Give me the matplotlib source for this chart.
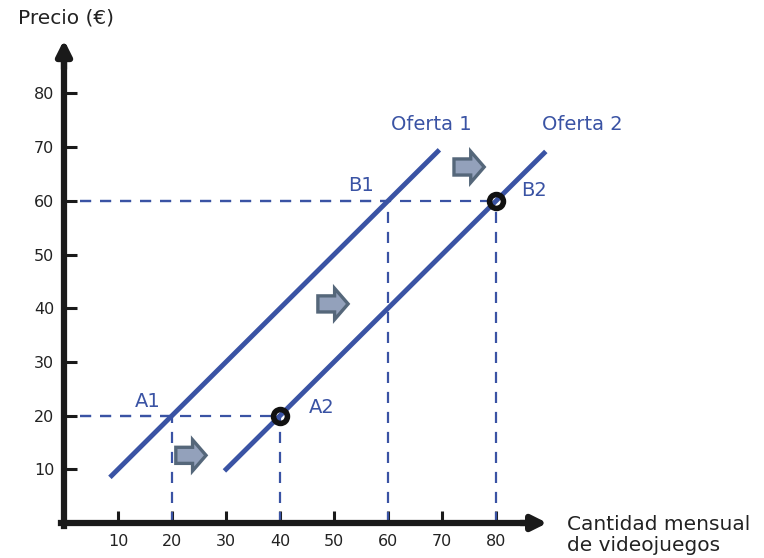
import matplotlib.pyplot as plt
from matplotlib.patches import FancyArrow

# supply curves (quantity, price)
oferta1_x = [8.5, 69.5]
oferta1_y = [8.5, 69.5]
oferta2_x = [29.7, 89.2]
oferta2_y = [9.7, 69.2]

# equilibrium points
puntos_x = [20, 40, 60, 80]
puntos_y = [20, 20, 60, 60]
circulos_x = [40, 80]
circulos_y = [20, 60]

# shift arrows (left x, center y)
flechas_x = [20.7, 47.0, 72.2]
flechas_y = [12.6, 40.8, 66.3]

ticks = [10, 20, 30, 40, 50, 60, 70, 80]

etiquetas = ['A1', 'A2', 'B1', 'B2', 'Oferta 1', 'Oferta 2']
etiq_x = [15.5, 47.8, 55.0, 87.0, 68.0, 96.0]
etiq_y = [22.7, 21.6, 62.8, 62.0, 74.3, 74.3]

azul = '#3a53a4'
negro = '#1a1a1a'

fig = plt.figure(figsize=(7.64, 5.58), dpi=100)
ax = fig.add_axes([0, 0, 1, 1])
ax.set_xlim(-11.85, 129.6)
ax.set_ylim(-6.52, 97.4)

# axes with arrow heads
for s in ['top', 'right']:
    ax.spines[s].set_visible(False)
ax.spines['left'].set_position(('data', 0))
ax.spines['bottom'].set_position(('data', 0))
ax.spines['left'].set_bounds(-0.6, 86)
ax.spines['bottom'].set_bounds(-0.6, 86)
for s in ['left', 'bottom']:
    ax.spines[s].set_linewidth(4.5)
    ax.spines[s].set_color(negro)
ax.annotate('', xy=(90, 0), xytext=(84, 0),
            arrowprops=dict(arrowstyle='-|>', color=negro, lw=4.5, mutation_scale=22))
ax.annotate('', xy=(0, 90.5), xytext=(0, 84),
            arrowprops=dict(arrowstyle='-|>', color=negro, lw=4.5, mutation_scale=22))

ax.set_xticks(ticks)
ax.set_yticks(ticks)
ax.tick_params(direction='in', length=9, width=2.2, color=negro,
               labelsize=11.5, labelcolor='#222222')
ax.tick_params(axis='x', pad=8)
ax.tick_params(axis='y', pad=7)

# dashed guide lines
for px, py in zip(puntos_x, puntos_y):
    ax.plot([3, px], [py, py], color=azul, lw=1.6, ls=(0, (5, 4)))
    ax.plot([px, px], [0, py], color=azul, lw=1.6, ls=(0, (5, 4)))

# supply curves
ax.plot(oferta1_x, oferta1_y, color=azul, lw=3.5, solid_capstyle='butt')
ax.plot(oferta2_x, oferta2_y, color=azul, lw=3.5, solid_capstyle='butt')

ax.plot(circulos_x, circulos_y, 'o', ms=10, mfc='none', mec='#111111', mew=4, zorder=5)

# shift arrows
for fx, fy in zip(flechas_x, flechas_y):
    ax.add_patch(FancyArrow(fx, fy, 5.6, 0, width=3.0, head_width=5.8, head_length=2.5,
                            length_includes_head=True, fc='#93a1bb', ec='#55677a', lw=2.4, zorder=4))

for t, tx, ty in zip(etiquetas, etiq_x, etiq_y):
    ax.text(tx, ty, t, color=azul, fontsize=14, ha='center', va='center')

ax.text(0.4, 94, 'Precio (€)', fontsize=14.5, color='#222222', ha='center', va='center')
ax.text(93.1, -2.2, 'Cantidad mensual\nde videojuegos', fontsize=14.5, color='#222222',
        ha='left', va='center', linespacing=1.15)

fig.savefig('out.png', dpi=100)
